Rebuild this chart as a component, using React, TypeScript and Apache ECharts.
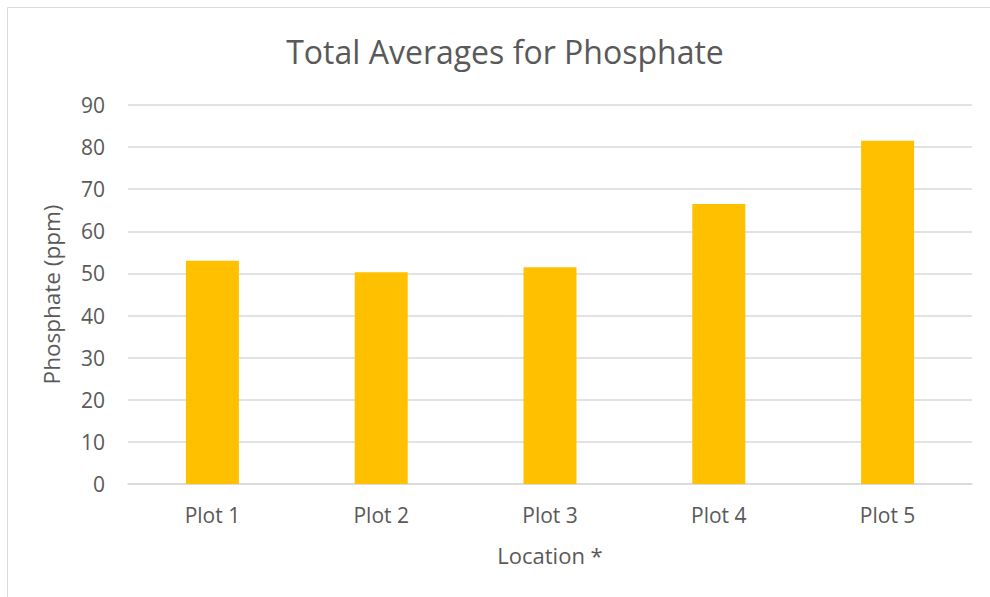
import React, { useEffect, useRef } from "react";
import * as echarts from "echarts";

const categories = ["Plot 1", "Plot 2", "Plot 3", "Plot 4", "Plot 5"];
const values = [53.0, 50.3, 51.5, 66.5, 81.5];
const titleText = "Total Averages for Phosphate";
const yAxisName = "Phosphate (ppm)";
const xAxisName = "Location *";

export default function App() {
  const ref = useRef<HTMLDivElement>(null);
  useEffect(() => {
    const chart = echarts.init(ref.current!, null, { renderer: "svg" });
    const font = "'Open Sans', sans-serif";
    chart.setOption({
      animation: false,
      backgroundColor: "#ffffff",
      title: {
        text: titleText,
        left: 500,
        textAlign: "center",
        top: 30,
        textStyle: { fontFamily: font, fontSize: 32, fontWeight: "normal", color: "#595959" },
      },
      graphic: [
        {
          type: "rect",
          shape: { x: 7.5, y: 7.5, width: 1000, height: 600 },
          style: { fill: "none", stroke: "#d9d9d9", lineWidth: 1 },
          silent: true,
        },
      ],
      grid: { left: 128, right: 18, top: 105, bottom: 113, containLabel: false },
      xAxis: {
        type: "category",
        data: categories,
        name: xAxisName,
        nameLocation: "middle",
        nameGap: 60,
        nameTextStyle: { fontFamily: font, fontSize: 22, color: "#595959" },
        axisLine: { lineStyle: { color: "#d9d9d9", width: 1.5 } },
        axisTick: { show: false },
        axisLabel: { fontFamily: font, fontSize: 21, color: "#595959", margin: 20 },
      },
      yAxis: {
        type: "value",
        min: 0,
        max: 90,
        interval: 10,
        name: yAxisName,
        nameLocation: "middle",
        nameGap: 65,
        nameRotate: 90,
        nameTextStyle: { fontFamily: font, fontSize: 22.5, color: "#595959" },
        axisLine: { show: false },
        axisTick: { show: false },
        axisLabel: { fontFamily: font, fontSize: 21, color: "#595959", margin: 23 },
        splitLine: { lineStyle: { color: "#d9d9d9", width: 1.5 } },
      },
      series: [
        {
          type: "bar",
          data: values,
          barWidth: 53,
          itemStyle: { color: "#FFC000" },
        },
      ],
    });
    return () => chart.dispose();
  }, []);
  return (
    <div
      ref={ref}
      style={{ position: "fixed", left: 0, top: 0, width: 990, height: 597 }}
    />
  );
}
